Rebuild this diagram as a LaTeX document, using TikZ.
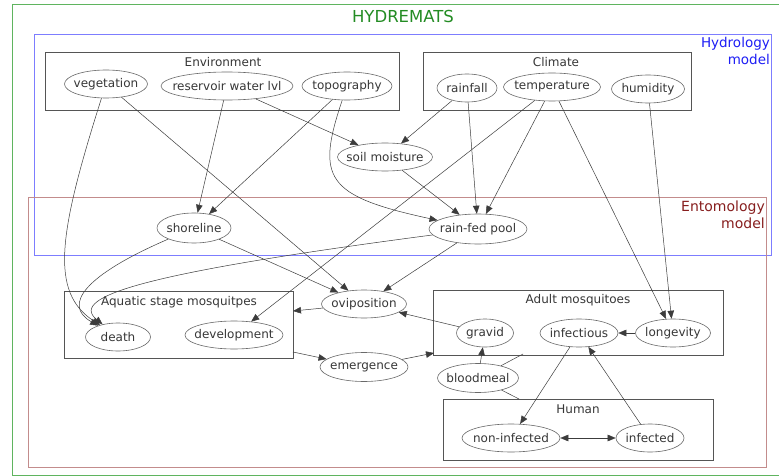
\documentclass[tikz,border=0pt]{standalone}
\usepackage{fontspec}
\setmainfont{DejaVu Sans}
\usetikzlibrary{shapes.geometric,arrows.meta}
\definecolor{ellgray}{RGB}{105,105,105}
\definecolor{grpgray}{RGB}{85,85,85}
\definecolor{txtgray}{RGB}{55,55,55}
\definecolor{arrgray}{RGB}{60,60,60}
\definecolor{frgreen}{RGB}{95,180,95}
\definecolor{frblue}{RGB}{125,125,255}
\definecolor{frred}{RGB}{195,140,140}
\definecolor{ttgreen}{RGB}{35,140,35}
\definecolor{ttblue}{RGB}{30,30,245}
\definecolor{ttred}{RGB}{135,30,30}
\begin{document}
\begin{tikzpicture}[x=1pt,y=-1pt,
  txt/.style={font=\fontsize{12}{14}\selectfont,text=txtgray,inner sep=0pt},
  el/.style={ellipse,draw=ellgray,line width=0.6pt,inner sep=0pt,label={[txt]center:#1}},
  grp/.style={draw=grpgray,line width=0.7pt,inner sep=0pt,rectangle},
  glabel/.style={font=\fontsize{12}{14}\selectfont,text=txtgray,inner sep=0pt},
  arr/.style={draw=arrgray,line width=0.5pt,-{Triangle[length=8pt,width=6.5pt]}},
  darr/.style={draw=arrgray,line width=0.5pt,{Triangle[length=8pt,width=6.5pt]}-{Triangle[length=8pt,width=6.5pt]}},
  lin/.style={draw=arrgray,line width=0.5pt}]
\useasboundingbox (0,0) rectangle (779,476);
\fill[white] (0,0) rectangle (779,476);
% frames
\draw[frgreen,line width=0.8pt] (12,4) -- (790,4) (12,4) -- (12,475) -- (790,475);
\draw[frblue,line width=0.8pt] (34,34) rectangle (771,255);
\draw[frred,line width=0.8pt] (28,197) rectangle (766,467);
\node[text=ttgreen,font=\fontsize{16.5}{18}\selectfont] (title) at (403,16) {HYDREMATS};
\node[text=ttblue,font=\fontsize{13.5}{17}\selectfont,align=right,anchor=north east,inner sep=0pt] (hyd) at (770,37) {Hydrology\\model};
\node[text=ttred,font=\fontsize{14}{17}\selectfont,align=right,anchor=north east,inner sep=0pt] (ent) at (765,201) {Entomology\\model};
% groups
\node[grp,minimum width=354pt,minimum height=58pt] (env) at (222,81) {};
\node[grp,minimum width=268pt,minimum height=58pt] (cli) at (557,81) {};
\node[grp,minimum width=229pt,minimum height=67pt] (aq) at (178.5,324.5) {};
\node[grp,minimum width=290pt,minimum height=65pt] (ad) at (578,322.5) {};
\node[grp,minimum width=270pt,minimum height=61pt] (hu) at (578,429.5) {};
\node[glabel] (envl) at (223,62) {Environment};
\node[glabel] (clil) at (556,62) {Climate};
\node[glabel] (aql) at (179,302) {Aquatic stage mosquitpes};
\node[glabel] (adl) at (578,300) {Adult mosquitoes};
\node[glabel] (hul) at (578,409) {Human};
% nodes
\node[el=vegetation,minimum width=83pt,minimum height=28pt] (veg) at (106,84) {};
\node[el=reservoir water lvl,minimum width=132pt,minimum height=28pt] (res) at (227,86) {};
\node[el=topography,minimum width=90pt,minimum height=28pt] (topo) at (347,86) {};
\node[el=rainfall,minimum width=60pt,minimum height=28pt] (rain) at (467,88) {};
\node[el=temperature,minimum width=97pt,minimum height=28pt] (temp) at (552,87) {};
\node[el=humidity,minimum width=73pt,minimum height=28pt] (hum) at (648,89) {};
\node[el=soil moisture,minimum width=95pt,minimum height=28pt] (soil) at (385,157) {};
\node[el=shoreline,minimum width=74pt,minimum height=30pt] (shore) at (194,228) {};
\node[el=rain-fed pool,minimum width=98pt,minimum height=30pt] (pool) at (478,229) {};
\node[el=death,minimum width=65pt,minimum height=28pt] (death) at (118,337) {};
\node[el=development,minimum width=98pt,minimum height=28pt] (dev) at (234,335) {};
\node[el=oviposition,minimum width=85pt,minimum height=28pt] (ovi) at (364,304) {};
\node[el=emergence,minimum width=88pt,minimum height=29pt] (emer) at (364,367) {};
\node[el=gravid,minimum width=57pt,minimum height=28pt] (grav) at (485,333) {};
\node[el=infectious,minimum width=78pt,minimum height=28pt] (infs) at (579,333) {};
\node[el=longevity,minimum width=75pt,minimum height=28pt] (longv) at (673,333) {};
\node[el=bloodmeal,minimum width=81pt,minimum height=29pt] (blood) at (478,378) {};
\node[el=non-infected,minimum width=98pt,minimum height=28pt] (noninf) at (511,438) {};
\node[el=infected,minimum width=68pt,minimum height=28pt] (inf) at (650,438) {};
% coordinates on group borders
\coordinate (aqin) at (293,311);
\coordinate (aqout) at (293,352);
\coordinate (adin) at (434,353);
\coordinate (adb) at (523,354);
\coordinate (hub) at (519,399);
% edges
\draw[arr] (veg) .. controls (58,235) and (50,292) .. (death);
\draw[arr] (veg) -- (ovi);
\draw[arr] (res) -- (shore);
\draw[arr] (res) -- (soil);
\draw[arr] (topo) -- (shore);
\draw[arr] (topo) .. controls (316,178) and (325,196) .. (pool);
\draw[arr] (rain) -- (soil);
\draw[arr] (rain) -- (pool);
\draw[arr] (temp) -- (pool);
\draw[arr] (temp) -- (dev);
\draw[arr] (temp) -- (longv);
\draw[arr] (hum) -- (longv);
\draw[arr] (soil) -- (pool);
\draw[arr] (shore) .. controls (85,275) and (62,305) .. (death);
\draw[arr] (pool) .. controls (150,272) and (68,296) .. (death);
\draw[arr] (shore) -- (ovi);
\draw[arr] (pool) -- (ovi);
\draw[arr] (ovi) -- (aqin);
\draw[arr] (aqout) -- (emer);
\draw[arr] (emer) -- (adin);
\draw[arr] (grav) -- (ovi);
\draw[arr] (blood) -- (grav);
\draw[lin] (blood) -- (adb);
\draw[lin] (blood) -- (hub);
\draw[arr] (infs) -- (noninf);
\draw[arr] (inf) -- (infs);
\draw[arr] (longv) -- (infs);
\draw[darr] (noninf) -- (inf);
\end{tikzpicture}
\end{document}
